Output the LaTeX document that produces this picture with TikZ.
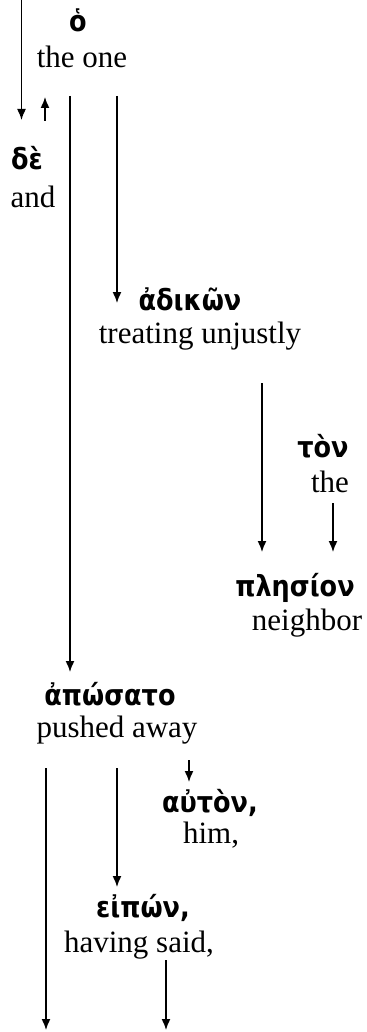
\documentclass[tikz,border=0pt]{standalone}
\usepackage{fontspec}
\setmainfont{Liberation Serif}
\newfontfamily\grk[Script=Greek,FakeStretch=0.88]{DejaVu Sans}
\usetikzlibrary{arrows.meta}
\tikzset{
  grkword/.style={font=\grk\bfseries\fontsize{14.5}{17}\selectfont, anchor=base, inner sep=0pt, outer sep=0pt},
  engword/.style={font=\fontsize{15.5}{18}\selectfont, anchor=base, inner sep=0pt, outer sep=0pt},
  arr/.style={line width=0.75pt, -{Latex[length=5.5pt,width=4.5pt]}}
}
\begin{document}
\begin{tikzpicture}[x=0.5pt,y=-0.5pt]
\useasboundingbox (0,0) rectangle (366,1032);
% words
\node[grkword] (g1) at (78,32) {ὁ};
\node[engword] (e1) at (82,68) {the one};
\node[grkword] (g2) at (27,170) {δὲ};
\node[engword] (e2) at (33,207) {and};
\node[grkword] (g3) at (190,310) {ἀδικῶν};
\node[engword] (e3) at (200,343) {treating unjustly};
\node[grkword] (g4) at (323,457) {τὸν};
\node[engword] (e4) at (330,492) {the};
\node[grkword] (g5) at (295,596) {πλησίον};
\node[engword] (e5) at (307,630) {neighbor};
\node[grkword] (g6) at (110,705) {ἀπώσατο};
\node[engword] (e6) at (117,737) {pushed away};
\node[grkword] (g7) at (210,812) {αὐτὸν,};
\node[engword] (e7) at (211,843) {him,};
\node[grkword] (g8) at (143,917) {εἰπών,};
\node[engword] (e8) at (139,952) {having said,};
% connector ends
\coordinate (a0) at (21.5,0);   \coordinate (a1) at (21.5,120);
\coordinate (b0) at (45,121);   \coordinate (b1) at (45,97);
\coordinate (c0) at (70,96);    \coordinate (c1) at (70,672);
\coordinate (d0) at (117,96);   \coordinate (d1) at (117,303);
\coordinate (f0) at (262,383);  \coordinate (f1) at (262,552);
\coordinate (h0) at (333,503);  \coordinate (h1) at (333,552);
\coordinate (k0) at (46,768);   \coordinate (k1) at (46,1030);
\coordinate (m0) at (117,768);  \coordinate (m1) at (117,887);
\coordinate (n0) at (189,760);  \coordinate (n1) at (189,782);
\coordinate (q0) at (166,960);  \coordinate (q1) at (166,1030);
% connectors
\draw[arr] (a0) -- (a1);
\draw[arr] (b0) -- (b1);
\draw[arr] (c0) -- (c1);
\draw[arr] (d0) -- (d1);
\draw[arr] (f0) -- (f1);
\draw[arr] (h0) -- (h1);
\draw[arr] (k0) -- (k1);
\draw[arr] (m0) -- (m1);
\draw[arr] (n0) -- (n1);
\draw[arr] (q0) -- (q1);
\end{tikzpicture}
\end{document}
